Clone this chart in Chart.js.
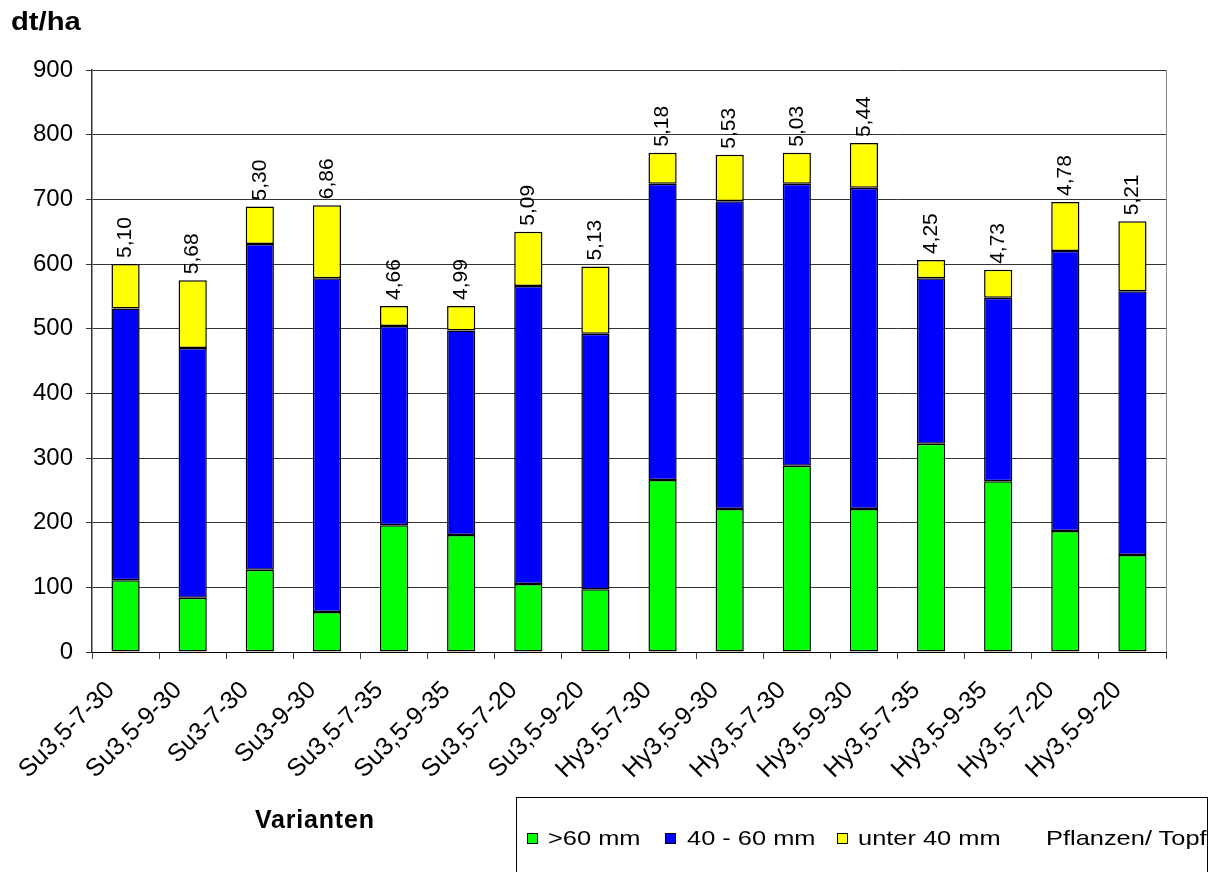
<!DOCTYPE html>
<html>
<head>
<meta charset="utf-8">
<title>dt/ha nach Varianten</title>
<script src="https://cdn.jsdelivr.net/npm/chart.js@4"></script>
<style>
    body { margin: 0; background: #fff; font-family: "Liberation Sans", Arial, sans-serif; }
    #wrap { position: relative; width: 1219px; height: 872px; overflow: hidden; }
    #chart { position: absolute; left: 0; top: 0; }
    .ylabel { position: absolute; left: 11px; top: 7px; font-size: 25px; font-weight: bold;
        transform: scaleX(1.17); transform-origin: left; }
    .xlabel { position: absolute; left: 255px; top: 805px; font-size: 25px; font-weight: bold; letter-spacing: 0.8px; }
    #legend { position: absolute; left: 516px; top: 797px; width: 692px; height: 100px;
        border: 1px solid #000; box-sizing: border-box; overflow: hidden; }
    .txt { position: absolute; top: 29px; font-size: 21px; line-height: 21px; white-space: nowrap;
        transform: scaleX(1.21); transform-origin: left; }
    .box { position: absolute; top: 35px; width: 11px; height: 11px; border: 1px solid #000; box-sizing: border-box; }
</style>
</head>
<body>
<div id="wrap">
    <canvas id="chart" width="1219" height="872"></canvas>
    <div class="ylabel">dt/ha</div>
    <div class="xlabel">Varianten</div>
    <div id="legend"></div>
</div>
<script>
// Varianten (categories)
const varianten = ['Su3,5-7-30', 'Su3,5-9-30', 'Su3-7-30', 'Su3-9-30', 'Su3,5-7-35', 'Su3,5-9-35',
    'Su3,5-7-20', 'Su3,5-9-20', 'Hy3,5-7-30', 'Hy3,5-9-30', 'Hy3,5-7-30', 'Hy3,5-9-30',
    'Hy3,5-7-35', 'Hy3,5-9-35', 'Hy3,5-7-20', 'Hy3,5-9-20'];

// yields in dt/ha per size class
const ueber60 = [111, 84, 127, 62, 196, 181, 105, 97, 266, 221, 288, 221, 322, 264, 187, 150];
const mm40bis60 = [420, 386, 504, 516, 308, 316, 461, 395, 458, 476, 436, 497, 256, 284, 433, 408];
const unter40 = [69, 105, 58, 113, 31, 38, 84, 104, 48, 72, 48, 69, 28, 43, 76, 108];

// Pflanzen/ Topf, shown above each bar
const pflanzenTopf = [5.10, 5.68, 5.30, 6.86, 4.66, 4.99, 5.09, 5.13, 5.18, 5.53, 5.03, 5.44, 4.25, 4.73, 4.78, 5.21];

const yTicks = [0, 100, 200, 300, 400, 500, 600, 700, 800, 900];

const series = [
    { label: '>60 mm', data: ueber60, color: '#00FF00' },
    { label: '40 - 60 mm', data: mm40bis60, color: '#0000FF' },
    { label: 'unter 40 mm', data: unter40, color: '#FFFF00' }
];

const font = '"Liberation Sans", Arial, sans-serif';

// draws the plants-per-pot values rotated above the stacks, plus right frame line
const valueLabels = {
    id: 'valueLabels',
    afterDatasetsDraw(chart) {
        const ctx = chart.ctx;
        const area = chart.chartArea;
        ctx.save();
        ctx.strokeStyle = '#888';
        ctx.lineWidth = 1;
        ctx.beginPath();
        ctx.moveTo(area.right + 0.5, area.top);
        ctx.lineTo(area.right + 0.5, area.bottom);
        ctx.stroke();

        const meta = chart.getDatasetMeta(series.length - 1);
        ctx.fillStyle = '#000';
        ctx.font = '21px ' + font;
        ctx.textAlign = 'left';
        ctx.textBaseline = 'middle';
        meta.data.forEach((bar, i) => {
            ctx.save();
            ctx.translate(bar.x, bar.y - 6);
            ctx.rotate(-Math.PI / 2);
            ctx.fillText(pflanzenTopf[i].toFixed(2).replace('.', ','), 0, 0);
            ctx.restore();
        });
        ctx.restore();
    }
};

new Chart(document.getElementById('chart'), {
    type: 'bar',
    data: {
        labels: varianten,
        datasets: series.map(s => ({
            label: s.label,
            data: s.data,
            backgroundColor: s.color,
            borderColor: '#000',
            borderWidth: 1.5,
            borderSkipped: false,
            barPercentage: 0.42,
            categoryPercentage: 1
        }))
    },
    options: {
        responsive: false,
        animation: false,
        layout: { padding: { left: 0, top: 70, right: 53, bottom: 0 } },
        plugins: { legend: { display: false }, tooltip: { enabled: false } },
        scales: {
            x: {
                stacked: true,
                afterFit: axis => { axis.height = 220; },
                grid: { offset: true, drawOnChartArea: false, tickLength: 7, color: '#444' },
                border: { color: '#000', width: 1 },
                ticks: {
                    minRotation: 45, maxRotation: 45, padding: 2,
                    color: '#000', font: { family: font, size: 25 },
                    // trailing spaces push the rotated text down-left like the original
                    callback: function (value) { return this.getLabelForValue(value) + '   '; }
                }
            },
            y: {
                stacked: true,
                min: 0,
                max: 900,
                afterFit: axis => { axis.width = 92; },
                afterBuildTicks: axis => { axis.ticks = yTicks.map(v => ({ value: v })); },
                grid: { color: '#333', tickLength: 6 },
                border: { color: '#333', width: 1.5 },
                ticks: { padding: 13, color: '#000', font: { family: font, size: 24 } }
            }
        }
    },
    plugins: [valueLabels]
});

// legend box below the chart (positions inside the box)
const legend = document.getElementById('legend');
const boxX = [10, 148, 320];
const textX = [31, 170, 341];
series.forEach((s, i) => {
    const box = document.createElement('div');
    box.className = 'box';
    box.style.left = boxX[i] + 'px';
    box.style.background = s.color;
    legend.appendChild(box);
    const txt = document.createElement('div');
    txt.className = 'txt';
    txt.style.left = textX[i] + 'px';
    txt.textContent = s.label;
    legend.appendChild(txt);
});
const extra = document.createElement('div');
extra.className = 'txt';
extra.style.left = '529px';
extra.textContent = 'Pflanzen/ Topf';
legend.appendChild(extra);
</script>
</body>
</html>
